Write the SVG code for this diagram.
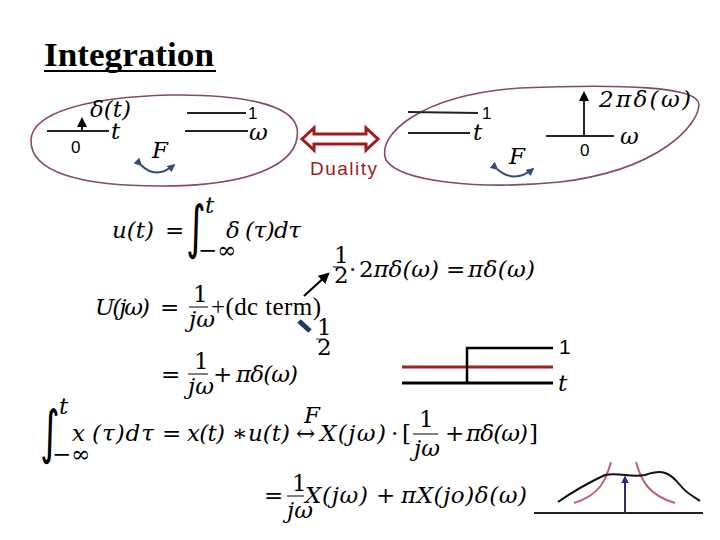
<svg xmlns="http://www.w3.org/2000/svg" width="720" height="540" viewBox="0 0 720 540">
<defs>
<style>
.m{font-family:"DejaVu Serif","Liberation Serif",serif;font-style:italic;font-size:23px;fill:#000}
.r{font-family:"DejaVu Serif","Liberation Serif",serif;font-size:23px;fill:#000}
.t{font-family:"Liberation Serif","DejaVu Serif",serif;font-size:25px;fill:#000}
.s{font-family:"Liberation Sans","DejaVu Sans",sans-serif;font-size:17px;fill:#000}
.int{font-family:"DejaVu Sans",sans-serif;font-size:58px;fill:#000}
.ell{fill:none;stroke:#8a4a5e;stroke-width:1.6}
.ax{stroke:#222;stroke-width:2.2;fill:none}
.fa{fill:none;stroke:#3a4a7a;stroke-width:2}
.fb{stroke:#000;stroke-width:1}
</style>
<marker id="ah" viewBox="0 0 10 10" refX="8" refY="5" markerWidth="5" markerHeight="5" orient="auto"><path d="M0,0 L10,5 L0,10 z" fill="#000"/></marker>
<marker id="fb" viewBox="0 0 10 10" refX="8" refY="5" markerWidth="4" markerHeight="4" orient="auto"><path d="M0,0 L10,5 L0,10 z" fill="#3a4a7a"/></marker>
<marker id="bl" viewBox="0 0 10 10" refX="8" refY="5" markerWidth="4" markerHeight="4" orient="auto"><path d="M0,0 L10,5 L0,10 z" fill="#2a2a80"/></marker>
</defs>
<rect width="720" height="540" fill="#fff"/>

<g id="title">
<text x="44" y="66" font-family="Liberation Serif,serif" font-weight="bold" font-size="33" textLength="170" lengthAdjust="spacingAndGlyphs">Integration</text>
<line x1="44" y1="71" x2="216" y2="71" stroke="#000" stroke-width="2"/>
</g>

<g id="left-ellipse">
<path class="ell" d="M170,95 C240,94 292,104 297,128 C302,160 260,186 160,186 C80,186 30,172 31,140 C32,112 90,97 170,95 Z"/>
<line class="ax" x1="47" y1="131" x2="109" y2="131"/>
<line x1="82" y1="131" x2="82" y2="119" stroke="#222" stroke-width="2" marker-end="url(#ah)"/>
<text class="m" x="90" y="117" font-size="21">δ(t)</text>
<text class="m" x="111" y="139" font-size="19">t</text>
<text class="s" x="71" y="153">0</text>
<line class="ax" x1="187" y1="113" x2="246" y2="113"/>
<text class="s" x="248" y="119">1</text>
<line class="ax" x1="185" y1="131" x2="248" y2="131"/>
<text class="m" x="249" y="140" font-size="19">ω</text>
<text class="m" x="152" y="158" font-size="18">F</text>
<path class="fa" d="M141,165 Q156,180 174,165" marker-start="url(#fb)" marker-end="url(#fb)"/>
</g>

<g id="duality">
<path d="M302,139 L314,128 L314,134 L366,134 L366,128 L378,139 L366,150 L366,144 L314,144 L314,150 Z" fill="#fff" stroke="#a01b1b" stroke-width="3" stroke-linejoin="miter"/>
<text x="310" y="175" font-family="Liberation Sans,DejaVu Sans,sans-serif" font-size="19" fill="#a01b1b" textLength="67" lengthAdjust="spacing">Duality</text>
</g>

<g id="right-ellipse">
<path class="ell" d="M520,88 C620,84 700,86 699,105 C698,125 660,170 560,182 C480,190 400,182 386,160 C376,135 420,95 520,88 Z"/>
<line class="ax" x1="408" y1="112" x2="478" y2="113"/>
<text class="s" x="482" y="119">1</text>
<line class="ax" x1="408" y1="133" x2="470" y2="133"/>
<text class="m" x="473" y="140" font-size="19">t</text>
<line class="ax" x1="546" y1="136" x2="614" y2="136"/>
<line x1="584" y1="136" x2="584" y2="93" stroke="#222" stroke-width="2" marker-end="url(#ah)"/>
<text class="m" x="599" y="107" font-size="23" textLength="92" lengthAdjust="spacing">2πδ(ω)</text>
<text class="m" x="620" y="144" font-size="19">ω</text>
<text class="s" x="580" y="156">0</text>
<text class="m" x="509" y="164" font-size="18">F</text>
<path class="fa" d="M497,169 Q514,184 533,169" marker-start="url(#fb)" marker-end="url(#fb)"/>
</g>

<g id="eq1">
<text class="m" x="112" y="238" textLength="42" lengthAdjust="spacing">u(t)</text>
<text class="r" x="165" y="238">=</text>
<text class="int" transform="translate(186,247) scale(0.65,1)">∫</text>
<text class="m" x="205" y="213" font-size="16">t</text>
<text class="r" x="198" y="258" font-size="16">−∞</text>
<text class="m" x="226" y="238">δ</text>
<text class="m" x="245" y="238" textLength="56" lengthAdjust="spacing">(τ)dτ</text>
</g>

<g id="eq-half">
<text class="r" x="334" y="263" font-size="15">1</text>
<line class="fb" x1="333" y1="267" x2="343" y2="267"/>
<text class="r" x="334" y="283" font-size="15">2</text>
<text class="r" x="349" y="277">·</text>
<text class="m" x="359" y="277" textLength="80" lengthAdjust="spacing"><tspan font-style="normal">2</tspan>πδ(ω)</text>
<text class="r" x="446" y="277">=</text>
<text class="m" x="468" y="277" textLength="67" lengthAdjust="spacing">πδ(ω)</text>
</g>

<g id="eq2">
<text class="m" x="95" y="315" textLength="55" lengthAdjust="spacing">U(jω)</text>
<text class="r" x="160" y="315">=</text>
<text class="r" x="193" y="302" font-size="17">1</text>
<line class="fb" x1="189" y1="307" x2="208" y2="307"/>
<text class="m" x="189" y="327" font-size="16">jω</text>
<text class="t" x="211" y="315" textLength="110" lengthAdjust="spacing">+(dc term)</text>
<line x1="299" y1="321" x2="310" y2="331" stroke="#1f3864" stroke-width="5"/>
<text class="r" x="317" y="335" font-size="15" fill="#1f3864">1</text>
<line x1="316" y1="339" x2="326" y2="339" stroke="#1f3864" stroke-width="1"/>
<text class="r" x="317" y="355" font-size="15" fill="#1f3864">2</text>
</g>

<g id="connectors">
<line x1="304" y1="296" x2="328" y2="274" stroke="#000" stroke-width="2.2" marker-end="url(#ah)"/>
</g>

<g id="eq3">
<text class="r" x="161" y="382">=</text>
<text class="r" x="194" y="369" font-size="17">1</text>
<line class="fb" x1="188" y1="374" x2="208" y2="374"/>
<text class="m" x="188" y="394" font-size="16">jω</text>
<text class="r" x="213" y="382">+</text>
<text class="m" x="236" y="382" textLength="62" lengthAdjust="spacing">πδ(ω)</text>
</g>

<g id="step-plot">
<line x1="402" y1="367" x2="553" y2="367" stroke="#a52020" stroke-width="3"/>
<line x1="402" y1="383" x2="553" y2="383" stroke="#000" stroke-width="3"/>
<polyline points="467,383 467,348 553,348" fill="none" stroke="#000" stroke-width="2.5"/>
<text x="559" y="354" font-family="Liberation Sans,sans-serif" font-size="21">1</text>
<text class="m" x="558" y="391" font-size="20">t</text>
</g>

<g id="eq4">
<text class="int" transform="translate(40,452) scale(0.65,1)">∫</text>
<text class="m" x="59" y="414" font-size="16">t</text>
<text class="r" x="52" y="462" font-size="16">−∞</text>
<text class="m" x="72" y="441">x</text>
<text class="m" x="92" y="441" textLength="62" lengthAdjust="spacing">(τ)dτ</text>
<text class="r" x="162" y="441">=</text>
<text class="m" x="187" y="441" textLength="38" lengthAdjust="spacing">x(t)</text>
<text class="r" x="232" y="441">∗</text>
<text class="m" x="248" y="441" textLength="42" lengthAdjust="spacing">u(t)</text>
<text class="m" x="304" y="423" font-size="14">F</text>
<text class="r" x="296" y="441" font-size="18">↔</text>
<text class="m" x="320" y="441" textLength="66" lengthAdjust="spacing">X(jω)</text>
<text class="r" x="391" y="441">·</text>
<text class="r" x="402" y="441">[</text>
<text class="r" x="419" y="427" font-size="24">1</text>
<line class="fb" x1="413" y1="434" x2="438" y2="434"/>
<text class="m" x="414" y="456" font-size="19">jω</text>
<text class="r" x="445" y="441">+</text>
<text class="m" x="466" y="441" textLength="62" lengthAdjust="spacing">πδ(ω)</text>
<text class="r" x="529" y="441">]</text>
</g>

<g id="eq5">
<text class="r" x="264" y="503">=</text>
<text class="r" x="292" y="491" font-size="17">1</text>
<line class="fb" x1="287" y1="496" x2="304" y2="496"/>
<text class="m" x="287" y="518" font-size="16">jω</text>
<text class="m" x="305" y="503" textLength="63" lengthAdjust="spacing">X(jω)</text>
<text class="r" x="376" y="503">+</text>
<text class="m" x="401" y="503" textLength="126" lengthAdjust="spacing">πX(jo)δ(ω)</text>
</g>

<g id="spectrum-plot">
<line x1="534" y1="513" x2="703" y2="513" stroke="#222" stroke-width="2"/>
<path d="M574,503 C600,495 606,480 611,462" fill="none" stroke="#c06070" stroke-width="2"/>
<path d="M636,462 C641,480 648,495 675,503" fill="none" stroke="#c06070" stroke-width="2"/>
<path d="M558,502 C575,490 590,482 605,475 C620,472 630,478 645,475 C660,470 668,470 680,485 C688,495 695,497 700,501" fill="none" stroke="#111" stroke-width="2"/>
<line x1="625" y1="513" x2="625" y2="477" stroke="#2a2a80" stroke-width="2" marker-end="url(#bl)"/>
</g>
</svg>
